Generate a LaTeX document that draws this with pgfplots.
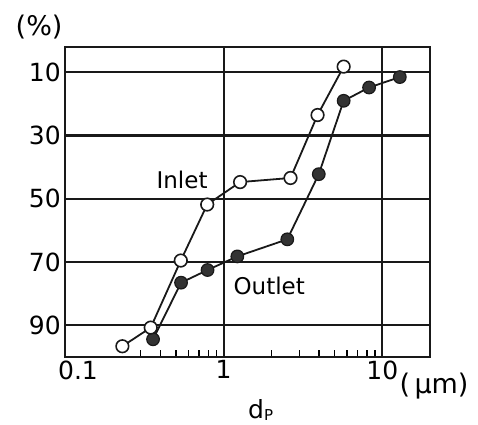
\documentclass[border=0pt]{standalone}
\usepackage{fontspec}
\setmainfont{DejaVu Sans}
\usepackage{pgfplots}
\pgfplotsset{compat=1.18}
\begin{document}
\begin{tikzpicture}[font=\fontsize{23}{27}\selectfont]
\path[use as bounding box] (0,0) rectangle (478pt,424pt);
\begin{axis}[
  at={(65pt,67pt)}, anchor=south west,
  scale only axis, width=365pt, height=310pt,
  xmode=log, xmin=0.1, xmax=20,
  ymin=2, ymax=100, y dir=reverse,
  xtick={1,10}, xticklabels={1,10},
  extra x ticks={0.1}, extra x tick labels={0.1},
  extra x tick style={grid=none, tick label style={xshift=13pt}},
  minor xtick={0.3,0.4,0.5,0.6,0.7,0.8,0.9,2,3,4,5,6,7,8,9},
  ytick={10,30,50,70,90}, yticklabels={10,30,50,70,90},
  grid=major, major grid style={line width=2.2pt, black!90},
  axis line style={line width=2.8pt, black!90},
  major tick length=0pt, minor tick length=7pt,
  minor tick style={line width=1.3pt, black},
  xtick pos=bottom, ytick pos=left, tick align=inside,
  /pgf/number format/assume math mode=true,
  tick label style={font=\fontsize{25}{29}\selectfont},
  yticklabel style={inner sep=4pt},
  clip=false,
]
\addplot[line width=1.8pt, black!90, mark=*, mark size=6.3pt, mark options={fill=black!80, line width=1.2pt}]
coordinates {(0.359,94.4) (0.539,76.5) (0.792,72.5) (1.22,68.2) (2.52,62.8) (3.98,42.2) (5.71,19.0) (8.26,14.8) (12.9,11.5)};
\addplot[line width=1.8pt, black!90, mark=*, mark size=6.3pt, mark options={fill=white, line width=1.6pt}]
coordinates {(0.230,96.6) (0.347,90.7) (0.537,69.5) (0.788,51.8) (1.27,44.7) (2.64,43.4) (3.91,23.5) (5.71,8.2)};
\node at (axis cs:0.547,44) {Inlet};
\node at (axis cs:1.94,77.4) {Outlet};
\node at (axis description cs:-0.071,1.065) {\fontsize{27}{30}\selectfont(\%)};
\node at (axis description cs:1.011,-0.094) {\fontsize{27}{30}\selectfont(\,μm)};
\node[anchor=base] at (axis description cs:0.536,-0.197) {\fontsize{25}{28}\selectfont d\raisebox{-2.5pt}{\fontsize{15}{15}\selectfont P}};
\end{axis}
\end{tikzpicture}
\end{document}
